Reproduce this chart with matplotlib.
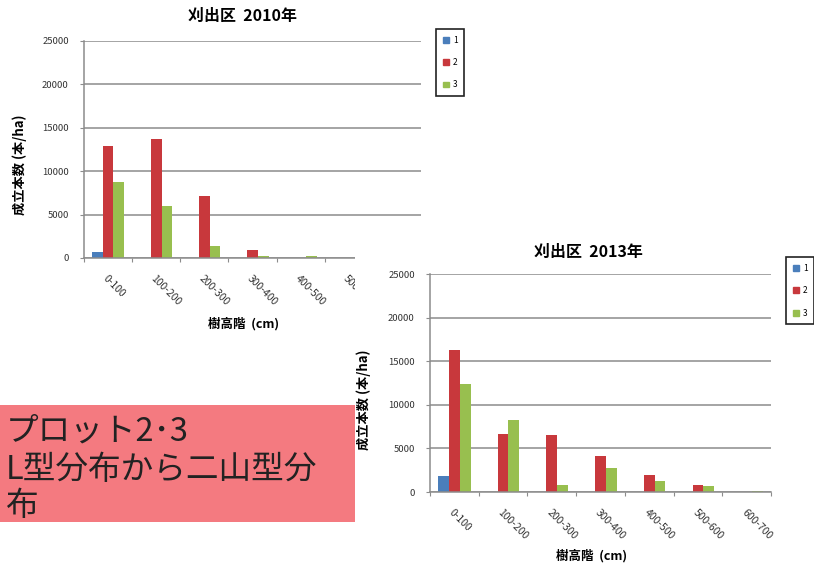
import matplotlib

matplotlib.use('Agg')
import matplotlib.pyplot as plt
from matplotlib.patches import Patch, Rectangle
import numpy as np

plt.rcParams['font.family'] = ['Noto Sans CJK JP', 'DejaVu Sans']

# tree height classes (cm)
classes = ['0-100', '100-200', '200-300', '300-400', '400-500', '500-600', '600-700']
series = ['1', '2', '3']

# stems per ha, 刈出区 2010 (last classes hidden behind the 2013 chart)
y2010_1 = [700, 0, 0, 0, 0, 0, 0]
y2010_2 = [12900, 13700, 7200, 900, 0, 0, 0]
y2010_3 = [8800, 6000, 1400, 200, 250, 0, 0]

# stems per ha, 刈出区 2013
y2013_1 = [1800, 0, 0, 0, 0, 0, 0]
y2013_2 = [16300, 6700, 6500, 4100, 2000, 850, 0]
y2013_3 = [12400, 8200, 850, 2700, 1300, 650, 150]

colors = ['#4a7ebb', '#c8383c', '#98bf4f']
grid_color = '#8c8c8c'
W, H = 814, 563


def fx(px):
    return px / W


def fy(py):
    return 1 - py / H


def bar_chart(ax, data):
    x = np.arange(len(classes))
    w = 0.222
    for i, vals in enumerate(data):
        ax.bar(x + (i - 1) * w, vals, w, color=colors[i], zorder=2)
    ax.set_xlim(-0.5, len(classes) - 0.5)
    ax.set_ylim(0, 25000)
    ax.set_yticks(range(0, 25001, 5000))
    ax.yaxis.grid(True, color=grid_color, lw=1.1, zorder=0)
    ax.set_xticks(np.arange(len(classes) + 1) - 0.5, minor=False)
    ax.set_xticklabels([])
    ax.set_xticks(x, minor=True)
    ax.set_xticklabels(classes, minor=True, rotation=-45, ha='left',
                       va='top', rotation_mode='anchor', fontsize=7.5,
                       color='#333333')
    ax.tick_params(axis='x', which='minor', length=0, pad=11)
    ax.tick_params(axis='x', which='major', length=3, color=grid_color)
    ax.tick_params(axis='y', length=3, color=grid_color, labelsize=6.8,
                   labelcolor='#333333', pad=8)
    for s in ['top', 'right']:
        ax.spines[s].set_visible(False)
    for s in ['left', 'bottom']:
        ax.spines[s].set_color(grid_color)
        ax.spines[s].set_linewidth(1.1)
    ax.set_facecolor('none')


def add_legend(x, y, z):
    handles = [Patch(color=c, label=s) for c, s in zip(colors, series)]
    leg = fig.legend(handles=handles, loc='upper left',
                     bbox_to_anchor=(fx(x), fy(y)), fontsize=6,
                     handlelength=0.7, handleheight=0.7, labelspacing=1.6,
                     handletextpad=0.5, borderpad=0.8, fancybox=False,
                     edgecolor='#222222', framealpha=1)
    leg.get_frame().set_linewidth(1.2)
    leg.set_zorder(z)


fig = plt.figure(figsize=[W / 100, H / 100], dpi=100)

ax1 = fig.add_axes([fx(84), fy(258), fx(421) - fx(84), fy(41) - fy(258)])
ax1.set_zorder(1)
bar_chart(ax1, [y2010_1, y2010_2, y2010_3])
fig.text(fx(242), fy(16), '刈出区  2010年', ha='center', va='center',
         fontsize=11.5, fontweight='bold', zorder=1)
fig.text(fx(244), fy(324), '樹高階  (cm)', ha='center', va='center',
         fontsize=9, fontweight='bold', zorder=1)
fig.text(fx(20), fy(165), '成立本数 (本/ha)', ha='center', va='center',
         rotation=90, fontsize=9.5, fontweight='bold', zorder=1)
add_legend(432, 25, 1)

# white chart area of the 2013 chart lying over the 2010 one
cover = Rectangle((fx(355), 0), 1 - fx(355), fy(239), transform=fig.transFigure,
                  facecolor='white', edgecolor='none', zorder=2)
fig.add_artist(cover)

ax2 = fig.add_axes([fx(430), fy(492), fx(771) - fx(430), fy(274) - fy(492)])
ax2.set_zorder(3)
bar_chart(ax2, [y2013_1, y2013_2, y2013_3])
fig.text(fx(588), fy(252), '刈出区  2013年', ha='center', va='center',
         fontsize=11.5, fontweight='bold', zorder=3)
fig.text(fx(592), fy(556), '樹高階  (cm)', ha='center', va='center',
         fontsize=9, fontweight='bold', zorder=3)
fig.text(fx(364), fy(400), '成立本数 (本/ha)', ha='center', va='center',
         rotation=90, fontsize=9.5, fontweight='bold', zorder=3)
add_legend(782, 253, 3)

# pink note box
box = Rectangle((0, fy(522)), fx(355), fy(405) - fy(522), transform=fig.transFigure,
                facecolor='#f47a80', edgecolor='none', zorder=4)
fig.add_artist(box)
for text, yy in [('プロット2･3', 432), ('L型分布から二山型分', 470), ('布', 506)]:
    fig.text(fx(6), fy(yy), text, ha='left', va='center',
             fontsize=23.5, color='#222222', zorder=5)

fig.savefig('out.png', dpi=100)
